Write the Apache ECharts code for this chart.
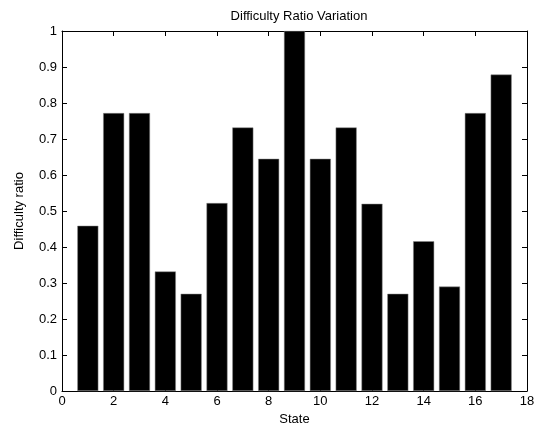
<!DOCTYPE html>
<html>
<head>
<meta charset="utf-8">
<script src="https://cdn.jsdelivr.net/npm/echarts@6/dist/echarts.min.js"></script>
<style>html,body{margin:0;padding:0;background:#fff;}#c{width:539px;height:433px;}</style>
</head>
<body>
<div id="c"></div>
<script>
const states = [1,2,3,4,5,6,7,8,9,10,11,12,13,14,15,16,17];
const ratios = [0.459,0.772,0.772,0.332,0.270,0.522,0.732,0.645,1.0,0.645,0.732,0.520,0.270,0.416,0.290,0.772,0.879];
const titleText = 'Difficulty Ratio Variation';
const xName = 'State';
const yName = 'Difficulty ratio';

const chart = echarts.init(document.getElementById('c'), null, {renderer:'canvas'});
const font = 'Liberation Sans, Arial, sans-serif';
const axisCommon = {
  axisLine:{show:true,onZero:false,lineStyle:{color:'#000',width:1}},
  axisTick:{show:true,inside:true,length:5,lineStyle:{color:'#000'}},
  splitLine:{show:false}
};
chart.setOption({
  animation:false,
  backgroundColor:'#fff',
  title:{text:titleText,left:294,top:5,textAlign:'center',textStyle:{fontFamily:font,fontSize:13,fontWeight:'normal',color:'#000'}},
  grid:{left:62,right:12,top:31,bottom:42,containLabel:false},
  xAxis:[
    Object.assign({type:'value',min:0,max:18,interval:2,position:'bottom',
      name:xName,nameLocation:'middle',nameGap:21,
      nameTextStyle:{fontFamily:font,fontSize:13,color:'#000'},
      axisLabel:{fontFamily:font,fontSize:13,color:'#000',margin:4}},axisCommon),
    Object.assign({type:'value',min:0,max:18,interval:2,position:'top',axisLabel:{show:false}},axisCommon)
  ],
  yAxis:[
    Object.assign({type:'value',min:0,max:1,interval:0.1,position:'left',
      name:yName,nameLocation:'middle',nameGap:36,nameRotate:90,
      nameTextStyle:{fontFamily:font,fontSize:13,color:'#000'},
      axisLabel:{fontFamily:font,fontSize:13,color:'#000',margin:5,formatter:v=>String(Math.round(v*10)/10)}},axisCommon),
    Object.assign({type:'value',min:0,max:1,interval:0.1,position:'right',axisLabel:{show:false}},axisCommon)
  ],
  series:[{
    type:'bar',
    xAxisIndex:0,yAxisIndex:0,
    data:states.map((s,i)=>[s,ratios[i]]),
    barWidth:21,
    itemStyle:{color:'#000',borderColor:'#888',borderWidth:0.5},
    silent:true
  }]
});
</script>
</body>
</html>
